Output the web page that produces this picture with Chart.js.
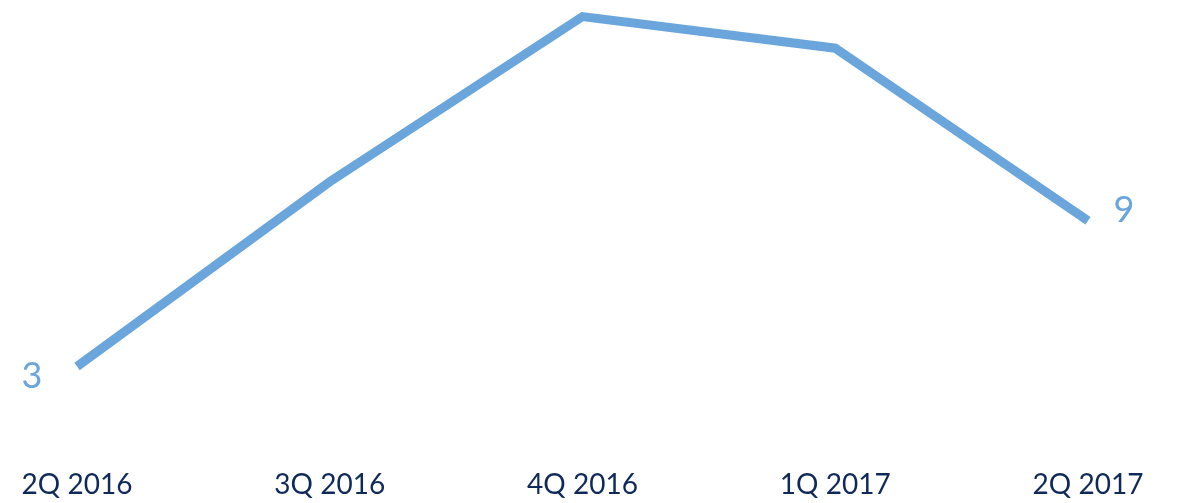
<!DOCTYPE html>
<html>
<head>
<meta charset="utf-8">
<script src="https://cdn.jsdelivr.net/npm/chart.js@4/dist/chart.umd.min.js"></script>
<style>
  html, body { margin: 0; padding: 0; background: #fff; }
  #wrap { width: 1178px; height: 503px; position: relative; }
</style>
</head>
<body>
<div id="wrap"><canvas id="lineChart"></canvas></div>
<script>
// Quarter labels and values
const quarters = ['2Q 2016', '3Q 2016', '4Q 2016', '1Q 2017', '2Q 2017'];
const values = [3, 10.6, 17.4, 16.1, 9];
// only the first and last point carry a value label
const labelledPoints = [0, 4];

const lineColor = '#6aa5dc';
const textColor = '#0f2a5a';

// Draw the value labels next to the end points
const endLabels = {
    id: 'endLabels',
    afterDatasetsDraw(chart) {
        const ctx = chart.ctx;
        const pts = chart.getDatasetMeta(0).data;
        ctx.save();
        ctx.font = '36px Lato';
        ctx.fillStyle = lineColor;
        ctx.textBaseline = 'middle';
        ctx.textAlign = 'center';
        labelledPoints.forEach(i => {
            const p = pts[i];
            const first = i === 0;
            ctx.fillText(String(values[i]), p.x + (first ? -45 : 36), p.y + (first ? 10 : -10));
        });
        ctx.restore();
    }
};

const ctx = document.getElementById('lineChart').getContext('2d');
new Chart(ctx, {
    type: 'line',
    data: {
        labels: quarters,
        datasets: [{
            data: values,
            borderColor: lineColor,
            borderWidth: 9,
            pointRadius: 0,
            tension: 0,
            fill: false,
            clip: false
        }]
    },
    options: {
        responsive: true,
        maintainAspectRatio: false,
        animation: false,
        layout: {
            padding: { left: 77, right: 90, top: 2, bottom: -28 }
        },
        plugins: {
            legend: { display: false },
            tooltip: { enabled: false }
        },
        scales: {
            x: {
                offset: false,
                grid: { display: false, drawTicks: false },
                border: { display: false },
                ticks: {
                    color: textColor,
                    font: { family: 'Lato', size: 28 },
                    padding: 29,
                    maxRotation: 0,
                    autoSkip: false
                },
                // labels may hang over the edges, keep the plot width fixed
                afterFit(scale) {
                    scale.paddingLeft = 0;
                    scale.paddingRight = 0;
                }
            },
            y: {
                display: false,
                min: 0,
                max: 18
            }
        }
    },
    plugins: [endLabels]
});
</script>
</body>
</html>
